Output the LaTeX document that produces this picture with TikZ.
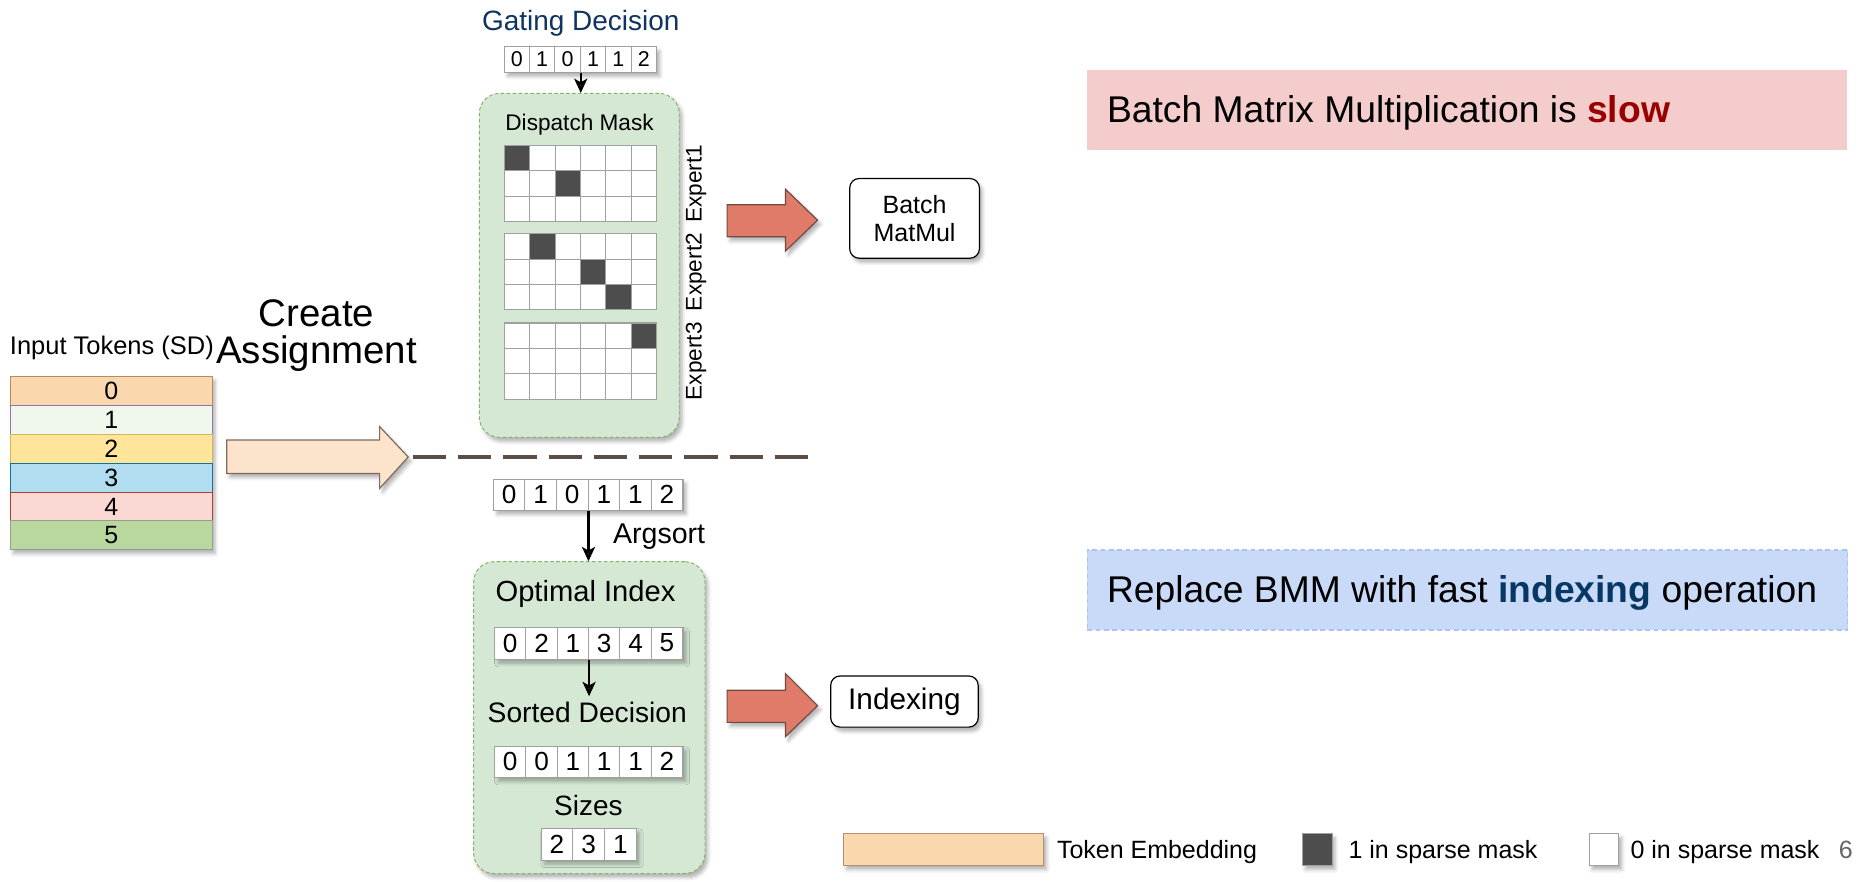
\documentclass[tikz,border=0pt]{standalone}
\usepackage{fontspec}
\setmainfont{Liberation Sans}
\usetikzlibrary{arrows.meta,shadows.blur,calc}

\newcommand{\fsz}[1]{\fontsize{#1}{#1}\selectfont}

\definecolor{navy}{RGB}{16,52,96}
\definecolor{mintfill}{HTML}{D5E8D4}
\definecolor{mintline}{HTML}{82B366}
\definecolor{cellgray}{HTML}{A0A0A0}
\definecolor{darkcell}{HTML}{4D4D4D}
\definecolor{peach}{HTML}{FCE4CC}
\definecolor{peachline}{HTML}{7F6A5C}
\definecolor{salmon}{HTML}{E07B69}
\definecolor{salmonline}{HTML}{6E4A42}
\definecolor{pinkbox}{HTML}{F4CCCC}
\definecolor{bluebox}{HTML}{C9DAF8}
\definecolor{blueline}{HTML}{A9C4EE}
\definecolor{slowred}{HTML}{990000}
\definecolor{idxblue}{HTML}{073763}
\definecolor{sepline}{HTML}{5A4E47}
\definecolor{legpeach}{HTML}{F9D8AE}
\definecolor{legpeachline}{HTML}{B09070}
% token rows
\definecolor{tokA}{HTML}{FAD7AC}\definecolor{tokAl}{HTML}{B98A5A}
\definecolor{tokB}{HTML}{F0F8EE}\definecolor{tokBl}{HTML}{9673A6}
\definecolor{tokC}{HTML}{FFE599}\definecolor{tokCl}{HTML}{D6B656}
\definecolor{tokD}{HTML}{B1DDF0}\definecolor{tokDl}{HTML}{10739E}
\definecolor{tokE}{HTML}{FAD9D5}\definecolor{tokEl}{HTML}{AE4132}
\definecolor{tokF}{HTML}{B9D89D}\definecolor{tokFl}{HTML}{9A9A9A}

% a row of numbered cells inside the named node #1
% #2 cell width, #3 cell height, #4 font size, #5 values
\newcommand{\fillrow}[5]{%
  \foreach \v [count=\i from 0] in {#5}{%
    \node[cell,minimum width=#2pt,minimum height=#3pt,font=\fsz{#4}]
      at ($(#1.west)+({(\i+0.5)*#2},0)$) {\v};}}

% a 3x6 dispatch-mask grid, #1 name, #2 centre y, #3 dark cells row/col
\newcommand{\maskgrid}[3]{%
  \node[inner sep=0pt,minimum width=128pt,minimum height=64pt] (#1) at (488,#2) {};
  \foreach \rr in {0,1,2}{\foreach \cc in {0,...,5}{%
    \draw[cellgray,line width=0.9pt,fill=white]
      ($(#1.north west)+(\cc*21.333,\rr*21.333)$) rectangle ++(21.333,21.333);}}
  \foreach \rr/\cc in {#3}{%
    \draw[cellgray,line width=0.9pt,fill=darkcell]
      ($(#1.north west)+(\cc*21.333,\rr*21.333)$) rectangle ++(21.333,21.333);}}

\begin{document}
\begin{tikzpicture}[x=1pt,y=-1pt,
  soft/.style={blur shadow={shadow xshift=2.5pt,shadow yshift=-3.5pt,shadow blur radius=3pt,shadow opacity=30}},
  cell/.style={draw=cellgray,fill=white,line width=0.8pt,inner sep=0pt,anchor=center},
  rowbox/.style={draw=cellgray,fill=white,line width=0.8pt,inner sep=0pt,soft},
  gbox/.style={draw=mintline,fill=mintfill,line width=0.8pt,dash pattern=on 3pt off 2pt,rounded corners=17pt,inner sep=0pt,soft},
  dn/.style={-{Stealth[length=12pt,width=11pt,inset=3pt]},line width=2pt},
  rbox/.style={draw=black,fill=white,rounded corners=8pt,line width=1pt,inner sep=0pt,soft},
  blockred/.style={fill=salmon,draw=salmonline,line width=1pt,soft},
  lbl/.style={inner sep=0pt,anchor=base},
  lblw/.style={inner sep=0pt,anchor=base west},
]
\useasboundingbox (0,0) rectangle (1568,741);

% ---------- input tokens ----------
\node[lbl,font=\fsz{21.4}] (intitle) at (94,298) {Input Tokens (SD)};
\node[inner sep=0pt,minimum width=169.6pt,minimum height=145.6pt,anchor=north west,fill=white,soft] (tokens) at (8.4,316) {};
\foreach \f/\l/\t [count=\i from 0] in {tokA/tokAl/0,tokB/tokBl/1,tokC/tokCl/2,tokD/tokDl/3,tokE/tokEl/4,tokF/tokFl/5}{%
  \node[draw=\l,fill=\f,line width=0.8pt,minimum width=169.6pt,minimum height=24.27pt,inner sep=0pt,anchor=north west,font=\fsz{21}]
    (tk\i) at ($(tokens.north west)+(0,\i*24.27)$) {\t};}

\node[lbl,font=\fsz{32.3}] (ca1) at (266,274.5) {Create};
\node[lbl,font=\fsz{32.3}] (ca2) at (266,305.3) {Assignment};

% block arrow into the separator
\draw[fill=peach,draw=peachline,line width=1pt,soft]
  (190.5,369.7) -- (319,369.7) -- (319,358.5) -- (343,384) -- (319,410.4) -- (319,397.8) -- (190.5,397.8) -- cycle;
\coordinate (sepL) at (347,384);
\coordinate (sepR) at (684,384);
\draw[sepline,line width=2.8pt,dash pattern=on 28pt off 10pt] (sepL) -- (sepR);

% ---------- upper branch: dispatch mask ----------
\node[lbl,font=\fsz{23.5},text=navy] (gtitle) at (488,26) {Gating Decision};
\node[rowbox,minimum width=128pt,minimum height=21.3pt] (gate) at (488,50) {};
\fillrow{gate}{21.333}{21.3}{18}{0,1,0,1,1,2}

\node[gbox,minimum width=168pt,minimum height=289pt] (mask) at (486.75,223) {};
\draw[dn] (gate.south) -- (gate.south |- mask.north);
\node[lbl,font=\fsz{19}] (mtitle) at (487,110) {Dispatch Mask};

\maskgrid{gA}{154.5}{0/0,1/2}
\maskgrid{gB}{228.6}{0/1,1/3,2/4}
\maskgrid{gC}{303.6}{0/5}
\node[rotate=90,inner sep=0pt,font=\fsz{19}] (xA) at (585,154.5) {Expert1};
\node[rotate=90,inner sep=0pt,font=\fsz{19}] (xB) at (585,228.6) {Expert2};
\node[rotate=90,inner sep=0pt,font=\fsz{19}] (xC) at (585,303.6) {Expert3};

\draw[blockred] (611,172) -- (660,172) -- (660,159) -- (687,185) -- (660,211) -- (660,199) -- (611,199) -- cycle;
\node[rbox,minimum width=109pt,minimum height=67pt,align=center,font=\fontsize{21}{24}\selectfont] (bmm) at (768.5,183.5) {Batch\\MatMul};

% ---------- lower branch: sorted indexing ----------
\node[rowbox,minimum width=159pt,minimum height=26.2pt] (sd) at (494.5,415.6) {};
\fillrow{sd}{26.5}{26.2}{22}{0,1,0,1,1,2}

\node[gbox,minimum width=194.4pt,minimum height=262pt] (idx) at (495.2,603) {};
\draw[dn] (sd.south) -- (sd.south |- idx.north);
\node[lblw,font=\fsz{24}] (argl) at (515,456.6) {Argsort};

\node[lbl,font=\fsz{24.5}] (otitle) at (492,505.6) {Optimal Index};
\node[rowbox,minimum width=158pt,minimum height=26.8pt] (opt) at (495,540.4) {};
\fillrow{opt}{26.333}{26.8}{22}{0,2,1,3,4,5}

\node[lbl,font=\fsz{23.7},inner sep=0pt] (stitle) at (493.5,607) {Sorted Decision};
\coordinate (stop) at (495,585);
\draw[dn] (opt.south) -- (opt.south |- stop);

\node[rowbox,minimum width=158pt,minimum height=26pt] (srt) at (495,640) {};
\fillrow{srt}{26.333}{26}{22}{0,0,1,1,1,2}

\node[lbl,font=\fsz{23.5}] (ztitle) at (494.4,685) {Sizes};
\node[rowbox,minimum width=80pt,minimum height=26.7pt] (sz) at (495,709.3) {};
\fillrow{sz}{26.667}{26.7}{22}{2,3,1}

\draw[blockred] (611,580) -- (660,580) -- (660,566) -- (687,593) -- (660,619) -- (660,607) -- (611,607) -- cycle;
\node[rbox,minimum width=124pt,minimum height=43pt,font=\fsz{25}] (ixb) at (760,589.5) {Indexing};

% ---------- remarks ----------
\node[fill=pinkbox,inner sep=0pt,minimum width=639pt,minimum height=67.2pt,anchor=north west] (slowbox) at (913,58.3) {};
\node[lblw,font=\fsz{31.3}] (slowtxt) at (930,103) {Batch Matrix Multiplication is \textbf{\color{slowred}slow}};

\node[fill=bluebox,draw=blueline,line width=1.2pt,dash pattern=on 4pt off 3pt,inner sep=0pt,minimum width=639pt,minimum height=67.2pt,anchor=north west] (fastbox) at (913,461.6) {};
\node[lblw,font=\fsz{31.3}] (fasttxt) at (930,506) {Replace BMM with fast \textbf{\color{idxblue}indexing} operation};

% ---------- legend ----------
\node[fill=legpeach,draw=legpeachline,line width=0.6pt,inner sep=0pt,minimum width=168pt,minimum height=27pt,anchor=north west,soft] (legA) at (708.6,700) {};
\node[lblw,font=\fsz{21}] (legAt) at (888,721.5) {Token Embedding};
\node[fill=darkcell,draw=cellgray,line width=0.6pt,inner sep=0pt,minimum width=25pt,minimum height=27pt,anchor=north west,soft] (legB) at (1094,700) {};
\node[lblw,font=\fsz{21}] (legBt) at (1133,721.5) {1 in sparse mask};
\node[fill=white,draw=cellgray,line width=0.6pt,inner sep=0pt,minimum width=25pt,minimum height=27pt,anchor=north west,soft] (legC) at (1335,700) {};
\node[lblw,font=\fsz{21}] (legCt) at (1370,721.5) {0 in sparse mask};
\node[lblw,font=\fsz{21},text=black!60] (pageno) at (1545,721.5) {6};
\end{tikzpicture}
\end{document}
